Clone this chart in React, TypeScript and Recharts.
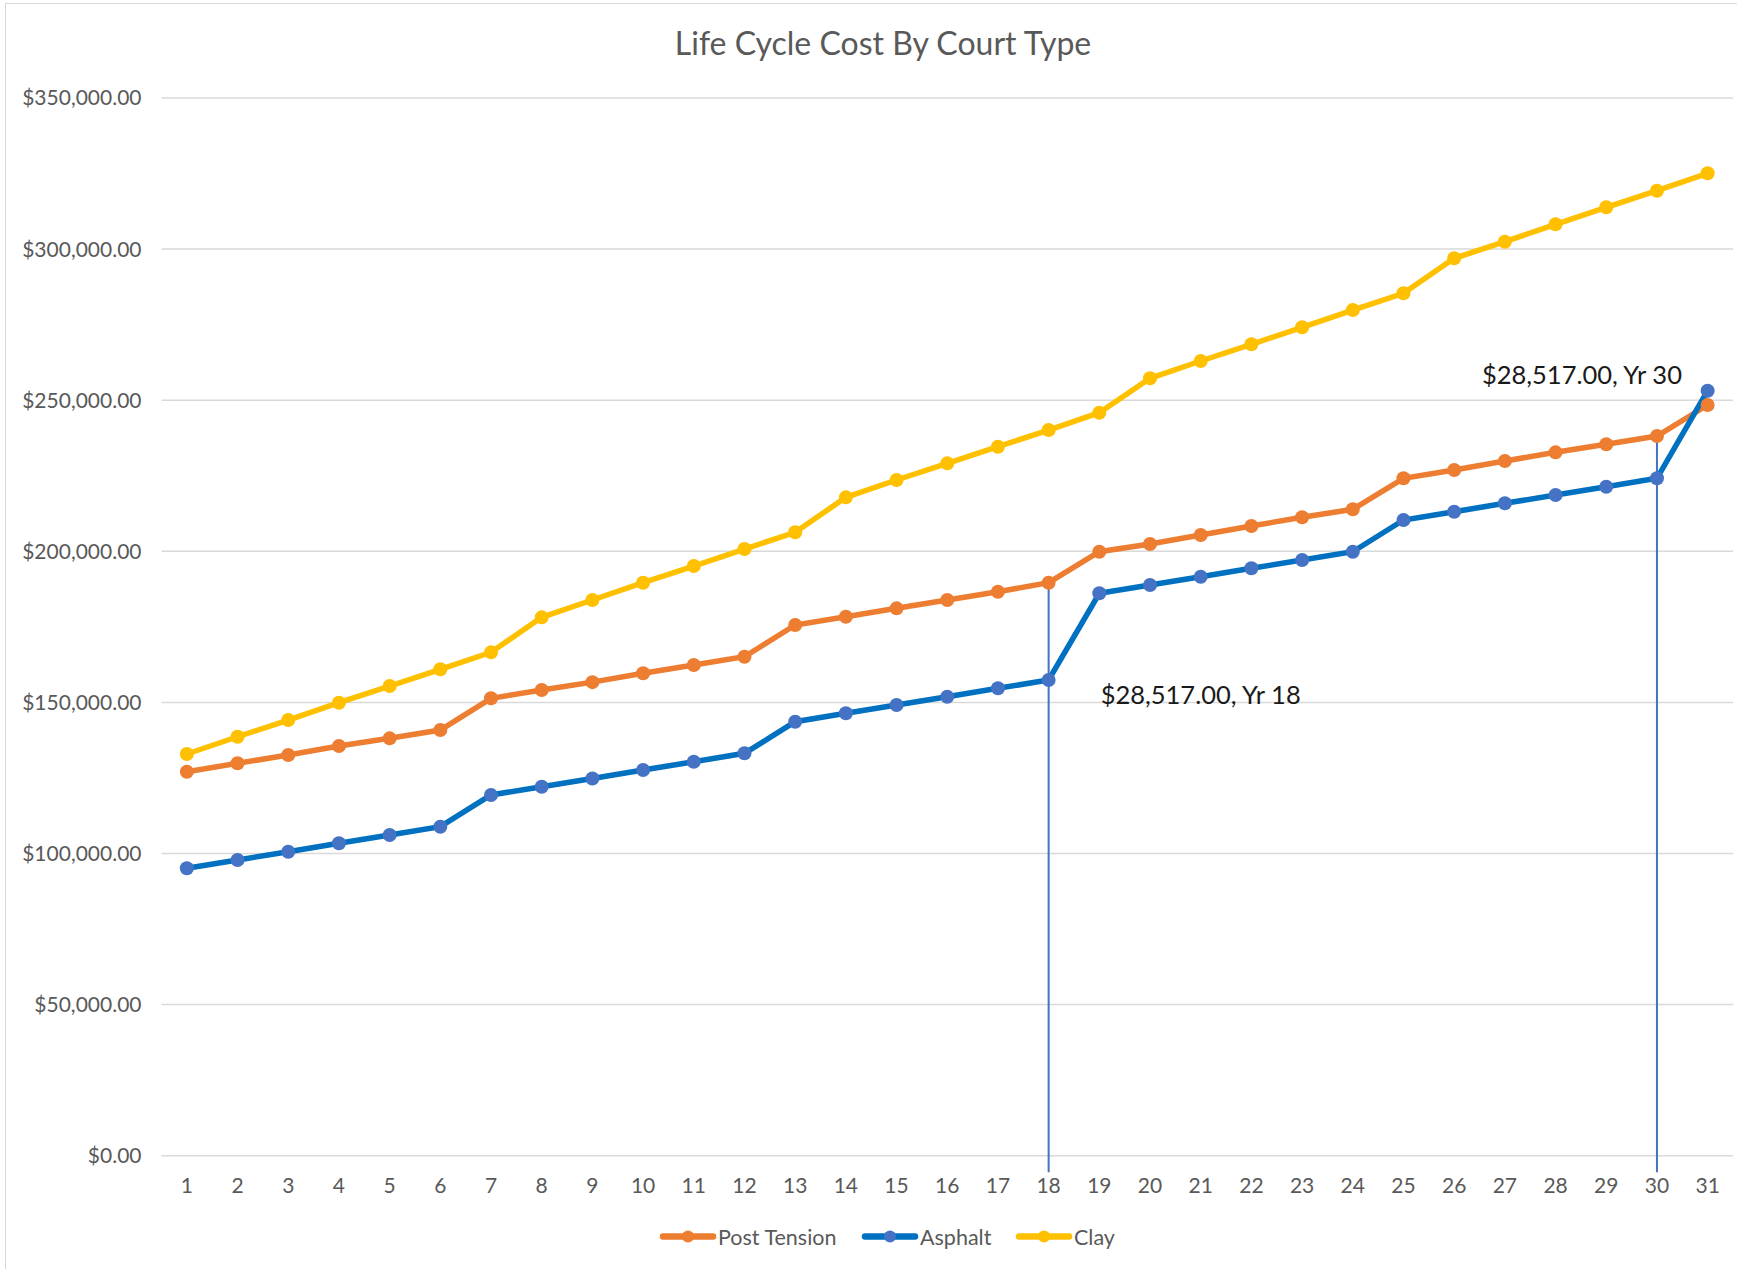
import React from 'react';
import { LineChart, Line, XAxis, YAxis, CartesianGrid, ReferenceLine, LabelList } from 'recharts';

const years = [1, 2, 3, 4, 5, 6, 7, 8, 9, 10, 11, 12, 13, 14, 15, 16, 17, 18, 19, 20, 21, 22, 23, 24, 25, 26, 27, 28, 29, 30, 31];
const postTension = [127070, 129840, 132590, 135570, 138110, 140860, 151350, 154100, 156700, 159630, 162370, 165120, 175610, 178360, 181130, 183880, 186630, 189610, 199860, 202410, 205390, 208370, 211250, 213890, 224150, 226900, 229880, 232750, 235400, 238150, 248410];
const asphalt = [95100, 97850, 100600, 103370, 106120, 108870, 119360, 122100, 124800, 127630, 130370, 133150, 143610, 146390, 149140, 151880, 154660, 157410, 186100, 188840, 191590, 194370, 197120, 199860, 210350, 213100, 215880, 218620, 221370, 224150, 253140];
const clay = [132920, 138640, 144170, 149900, 155420, 160950, 166570, 178150, 183880, 189610, 195130, 200750, 206280, 217860, 223590, 229110, 234610, 240130, 245860, 257240, 262970, 268490, 274120, 279840, 285370, 296950, 302440, 308200, 313830, 319320, 325080];
const yTicks = [0, 50000, 100000, 150000, 200000, 250000, 300000, 350000];
const seriesNames = ['Post Tension', 'Asphalt', 'Clay'];
const annotatedYears = [18, 30];
const annotationAmount = 28517;
const title = 'Life Cycle Cost By Court Type';

const COLORS = { pt: '#ED7D31', asLine: '#0070C0', asDot: '#4472C4', clay: '#FFC000' };
const FONT = "Lato, 'Noto Sans', sans-serif";

const data = years.map((y, i) => ({ year: y, pt: postTension[i], as: asphalt[i], clay: clay[i] }));

const money = (v: number) => '$' + v.toLocaleString('en-US', { minimumFractionDigits: 2, maximumFractionDigits: 2 });

const AnnotationLabel = (props: any) => {
  const { x, y, index } = props;
  const yr = years[index];
  if (!annotatedYears.includes(yr)) return null;
  const text = `${money(annotationAmount)}, Yr ${yr}`;
  if (yr === 18) {
    return (
      <text x={x + 52} y={y + 14} dominantBaseline="central" textAnchor="start" fontFamily={FONT} fontSize={25.5} fill="#1a1a1a">
        {text}
      </text>
    );
  }
  return (
    <text x={x + 25} y={y - 104} dominantBaseline="central" textAnchor="end" fontFamily={FONT} fontSize={25.5} fill="#1a1a1a">
      {text}
    </text>
  );
};

const legendItems = [
  { name: seriesNames[0], line: COLORS.pt, dot: COLORS.pt },
  { name: seriesNames[1], line: COLORS.asLine, dot: COLORS.asDot },
  { name: seriesNames[2], line: COLORS.clay, dot: COLORS.clay },
];

const dotStyle = (c: string) => ({ r: 7, fill: c, stroke: c, strokeWidth: 0 });

export default function App() {
  return (
    <div style={{ position: 'absolute', left: 0, top: 0, width: 1737, height: 1269, overflow: 'hidden', background: '#fff' }}>
      <div style={{ position: 'absolute', left: 5, top: 3, width: 2000, height: 2000, border: '1.5px solid #D9D9D9' }} />
      <div style={{ position: 'absolute', left: 0, top: 0 }}>
        <LineChart width={1737} height={1269} data={data} margin={{ top: 98, right: 4, bottom: 73.3, left: 0 }}>
          <CartesianGrid vertical={false} stroke="#D9D9D9" strokeWidth={1.5} />
          <XAxis
            dataKey="year"
            type="category"
            height={40}
            padding={{ left: 25.35, right: 25.35 }}
            axisLine={false}
            tickLine={false}
            tickSize={0}
            tickMargin={22}
            interval={0}
            tick={{ fill: '#595959', fontSize: 21, fontFamily: FONT }}
          />
          <YAxis
            type="number"
            domain={[0, 350000]}
            ticks={yTicks}
            width={161.5}
            axisLine={false}
            tickLine={false}
            tickSize={0}
            tickMargin={20}
            tickFormatter={money}
            tick={{ fill: '#595959', fontSize: 21, fontFamily: FONT }}
          />
          <Line type="linear" dataKey="pt" name={seriesNames[0]} stroke={COLORS.pt} strokeWidth={5.5} dot={dotStyle(COLORS.pt)} activeDot={false} isAnimationActive={false} />
          <Line type="linear" dataKey="as" name={seriesNames[1]} stroke={COLORS.asLine} strokeWidth={5.5} dot={dotStyle(COLORS.asDot)} activeDot={false} isAnimationActive={false}>
            <LabelList dataKey="as" content={AnnotationLabel} />
          </Line>
          <Line type="linear" dataKey="clay" name={seriesNames[2]} stroke={COLORS.clay} strokeWidth={5.5} dot={dotStyle(COLORS.clay)} activeDot={false} isAnimationActive={false} />
          {annotatedYears.map((yr) => (
            <ReferenceLine
              key={yr}
              segment={[{ x: yr, y: postTension[yr - 1] + 1000 }, { x: yr, y: -5500 }]}
              stroke="#4472C4"
              strokeWidth={2}
              ifOverflow="visible"
            />
          ))}
        </LineChart>
      </div>
      <svg style={{ position: 'absolute', left: 0, top: 0 }} width={1737} height={1269} pointerEvents="none">
        <text x={883} y={55} textAnchor="middle" fontFamily={FONT} fontSize={32} fill="#595959">{title}</text>
        {(() => {
          const starts = [660, 862, 1016];
          return legendItems.map((it, i) => {
            const x0 = starts[i];
            const cy = 1236.5;
            return (
              <g key={it.name}>
                <line x1={x0 + 3} y1={cy} x2={x0 + 53} y2={cy} stroke={it.line} strokeWidth={6.5} strokeLinecap="round" />
                <circle cx={x0 + 28} cy={cy} r={6} fill={it.dot} />
                <text x={x0 + 58} y={cy} dominantBaseline="central" fontFamily={FONT} fontSize={21.5} fill="#595959">{it.name}</text>
              </g>
            );
          });
        })()}
      </svg>
    </div>
  );
}
